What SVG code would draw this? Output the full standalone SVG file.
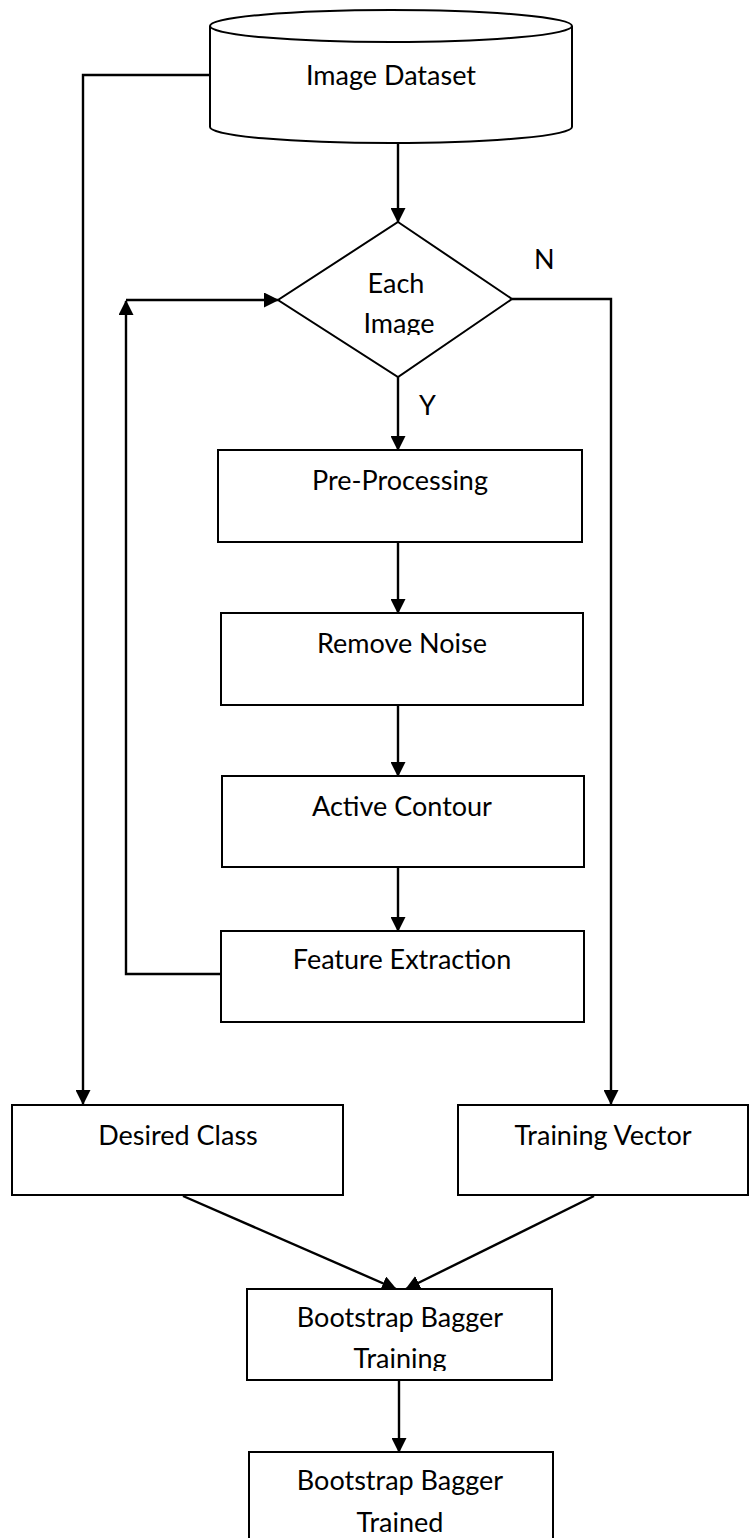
<svg xmlns="http://www.w3.org/2000/svg" width="750" height="1538" viewBox="0 0 750 1538">
<style>
.shape{fill:#fff;stroke:#000;stroke-width:2}
.line{fill:none;stroke:#000;stroke-width:2.4}
.t{font-family:Lato,"Liberation Sans",sans-serif;font-size:27px;fill:#000;text-anchor:middle}
.lbl{font-family:Lato,"Liberation Sans",sans-serif;font-size:27px;fill:#000}
</style>
<defs>
<marker id="ah" markerWidth="15" markerHeight="15" refX="14" refY="7.5" orient="auto" markerUnits="userSpaceOnUse">
<path d="M0,0 L15,7.5 L0,15 Z" fill="#000"/>
</marker>
<clipPath id="clipImg"><rect x="300" y="250" width="200" height="85"/></clipPath>
<clipPath id="clipTr"><rect x="250" y="1290" width="300" height="81"/></clipPath>
</defs>
<rect width="750" height="1538" fill="#fff"/>
<g id="connectors">
<polyline class="line" points="210,75 83,75 83,1104" marker-end="url(#ah)"/>
<line class="line" x1="398" y1="143" x2="398" y2="222" marker-end="url(#ah)"/>
<polyline class="line" points="512,299 611,299 611,1104" marker-end="url(#ah)"/>
<line class="line" x1="398" y1="377" x2="398" y2="450" marker-end="url(#ah)"/>
<line class="line" x1="398" y1="538" x2="398" y2="613" marker-end="url(#ah)"/>
<line class="line" x1="398" y1="702" x2="398" y2="776" marker-end="url(#ah)"/>
<line class="line" x1="398" y1="860" x2="398" y2="931" marker-end="url(#ah)"/>
<polyline class="line" points="221,974 126,974 126,301" marker-end="url(#ah)"/>
<line class="line" x1="126" y1="300" x2="278" y2="300" marker-end="url(#ah)"/>
<line class="line" x1="183" y1="1196" x2="396" y2="1289" marker-end="url(#ah)"/>
<line class="line" x1="594" y1="1196" x2="406" y2="1289" marker-end="url(#ah)"/>
<line class="line" x1="399" y1="1376" x2="399" y2="1452" marker-end="url(#ah)"/>
<text class="lbl" x="534" y="269">N</text>
<text class="lbl" x="419" y="415">Y</text>
</g>
<g id="image-dataset">
<path class="shape" d="M210,26 L210,127 A181,16 0 0 0 572,127 L572,26"/>
<ellipse class="shape" cx="391" cy="26" rx="181" ry="16"/>
<text class="t" x="391" y="85">Image Dataset</text>
</g>
<g id="each-image">
<polygon class="shape" points="398,222 512,299 398,377 278,300"/>
<text class="t" x="396" y="293">Each</text>
<text class="t" x="399" y="333" clip-path="url(#clipImg)">Image</text>
</g>
<g id="pre-processing">
<rect class="shape" x="218" y="450" width="364" height="92"/>
<text class="t" x="400" y="490">Pre-Processing</text>
</g>
<g id="remove-noise">
<rect class="shape" x="221" y="613" width="362" height="92"/>
<text class="t" x="402" y="653">Remove Noise</text>
</g>
<g id="active-contour">
<rect class="shape" x="222" y="776" width="362" height="91"/>
<text class="t" x="402" y="816">Active Contour</text>
</g>
<g id="feature-extraction">
<rect class="shape" x="221" y="931" width="363" height="91"/>
<text class="t" x="402" y="969">Feature Extraction</text>
</g>
<g id="desired-class">
<rect class="shape" x="12" y="1105" width="331" height="90"/>
<text class="t" x="178" y="1145">Desired Class</text>
</g>
<g id="training-vector">
<rect class="shape" x="458" y="1105" width="290" height="90"/>
<text class="t" x="603" y="1145">Training Vector</text>
</g>
<g id="bagger-training">
<rect class="shape" x="247" y="1289" width="305" height="91"/>
<text class="t" x="400" y="1327">Bootstrap Bagger</text>
<text class="t" x="400" y="1368" clip-path="url(#clipTr)">Training</text>
</g>
<g id="bagger-trained">
<rect class="shape" x="249" y="1452" width="304" height="100"/>
<text class="t" x="400" y="1490">Bootstrap Bagger</text>
<text class="t" x="400" y="1532">Trained</text>
</g>
</svg>
